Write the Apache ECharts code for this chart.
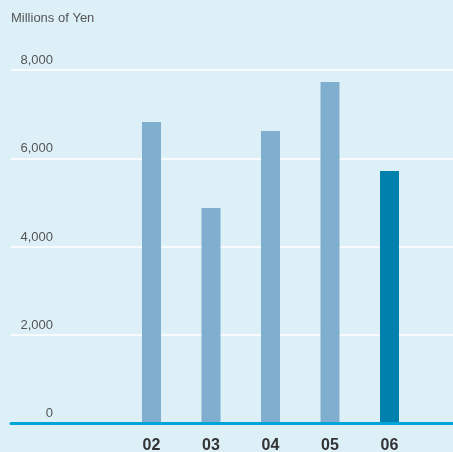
<!DOCTYPE html>
<html>
<head>
<meta charset="utf-8">
<style>
html,body{margin:0;padding:0;background:#DDF0F8;}
#c{width:453px;height:452px;}
</style>
<script src="https://cdn.jsdelivr.net/npm/echarts@6/dist/echarts.min.js"></script>
</head>
<body>
<div id="c"></div>
<script>
const categories = ['02', '03', '04', '05', '06'];
const values = [6820, 4870, 6620, 7730, 5710];
const yTicks = [0, 2000, 4000, 6000, 8000];
const unitLabel = 'Millions of Yen';

const chart = echarts.init(document.getElementById('c'), null, {renderer: 'canvas'});
const font = '"Liberation Sans", Arial, Helvetica, sans-serif';
chart.setOption({
  backgroundColor: '#DDF0F8',
  animation: false,
  title: {
    text: unitLabel, left: 11, top: 12, padding: 0,
    textStyle: {fontFamily: font, fontSize: 13, fontWeight: 'normal', color: '#555555'}
  },
  grid: [
    {left: 11, right: 0, top: 70, bottom: 29, outerBoundsMode: 'none', containLabel: false},
    {left: 121.75, right: 33.75, top: 70, bottom: 29, outerBoundsMode: 'none', containLabel: false}
  ],
  xAxis: [
    {gridIndex: 0, type: 'category', data: [''], axisLine: {show: true, lineStyle: {color: '#00A5D8', width: 3}},
     axisTick: {show: false}, axisLabel: {show: false}, splitLine: {show: false}, z: 5},
    {gridIndex: 1, type: 'category', data: categories, axisLine: {show: false},
     axisTick: {show: false},
     axisLabel: {margin: 15, fontFamily: font, fontSize: 16, fontWeight: 'bold', color: '#333333'}}
  ],
  yAxis: [
    {gridIndex: 0, type: 'value', min: yTicks[0], max: yTicks[yTicks.length - 1], interval: 2000,
     axisLine: {show: false}, axisTick: {show: false},
     splitLine: {show: true, lineStyle: {color: '#FFFFFF', width: 1.5}},
     axisLabel: {inside: true, align: 'right', margin: 42, verticalAlign: 'bottom', padding: [0, 0, 3, 0],
       fontFamily: font, fontSize: 13, color: '#555555',
       formatter: v => v.toLocaleString('en-US')}},
    {gridIndex: 1, type: 'value', min: yTicks[0], max: yTicks[yTicks.length - 1], interval: 2000, show: false,
     splitLine: {show: false}}
  ],
  series: [{
    type: 'bar', xAxisIndex: 1, yAxisIndex: 1, barWidth: 19,
    data: values.map((v, i) => ({value: v, itemStyle: {color: i === values.length - 1 ? '#0080AD' : '#7FAECE'}})),
    z: 3
  }]
});
</script>
</body>
</html>
